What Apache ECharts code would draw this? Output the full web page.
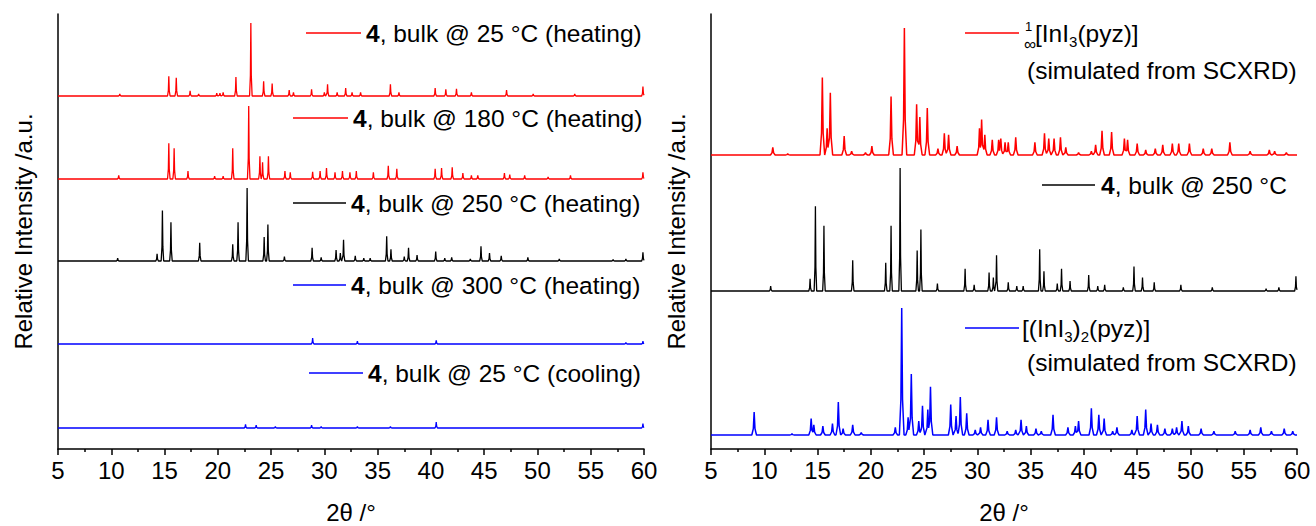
<!DOCTYPE html>
<html lang="en">
<head>
    <meta charset="utf-8">
    <script src="https://cdn.jsdelivr.net/npm/echarts@6/dist/echarts.min.js"></script>
    <title>pxrd_ini3_pyz</title>
</head>
<body>
<style>
    html, body, #main {
        width: 100%;
        height: 100%;
        margin: 0;
        background: #fff;
    }
</style>
<div id='main'></div>
<script>
    // peak positions (2theta, deg) and heights (% of strongest peak of that pattern)
    var heat25Pos = [10.8, 15.4, 16.1, 17.4, 18.2, 19.9, 20.2, 20.5, 21.7, 23.1, 24.3, 25.1, 26.7, 27.1, 28.8, 30.0, 30.3, 31.2, 32.0, 32.6, 33.4, 36.2, 37.0, 40.4, 41.4, 42.4, 43.8, 47.1, 49.6, 53.5, 59.9];
    var heat25Int = [3, 27, 25, 7, 3, 4, 4, 5, 26, 100, 20, 17, 8, 5, 9, 5, 16, 5, 11, 5, 5, 16, 5, 11, 9, 10, 5, 8, 3, 3, 13];

    var heat180Pos = [10.7, 15.4, 15.9, 17.2, 19.7, 20.5, 21.4, 22.9, 23.95, 24.2, 24.75, 26.3, 26.8, 28.9, 29.6, 30.2, 31.0, 31.7, 32.4, 33.0, 34.6, 36.0, 36.8, 40.4, 41.0, 42.0, 43.0, 43.8, 44.4, 46.9, 47.4, 48.8, 51.0, 53.1, 59.9];
    var heat180Int = [5, 49, 42, 11, 4, 4, 42, 100, 31, 23, 31, 11, 9, 10, 11, 15, 9, 11, 9, 11, 9, 18, 14, 14, 15, 16, 8, 5, 5, 8, 6, 5, 3, 5, 9];

    var bulk250Pos = [10.6, 14.3, 14.8, 15.6, 18.3, 21.4, 21.9, 22.75, 24.35, 24.7, 26.25, 28.85, 29.7, 31.1, 31.5, 31.8, 32.9, 33.7, 34.3, 35.85, 36.25, 37.5, 37.9, 38.7, 40.45, 41.3, 41.95, 43.7, 44.7, 45.5, 46.6, 49.1, 52.05, 57.1, 58.3, 59.9];
    var bulk250Int = [4, 10, 69, 53, 25, 23, 53, 100, 33, 50, 6, 18, 5, 15, 11, 29, 7, 4, 4, 34, 16, 6, 18, 8, 13, 4, 5, 3, 20, 11, 7, 5, 3, 2, 3, 12];

    var heat300Pos = [28.9, 33.1, 40.5, 58.3, 59.9];
    var heat300Int = [8, 4, 5, 2, 4];

    var cool25Pos = [22.6, 23.6, 25.4, 28.8, 29.7, 33.1, 36.2, 40.5, 59.9];
    var cool25Int = [5, 4, 2, 4, 2, 2, 2, 8, 6];

    var simChainPos = [10.8, 12.2, 15.45, 15.9, 16.2, 17.5, 18.2, 19.5, 20.1, 21.9, 23.15, 24.3, 24.6, 25.3, 26.3, 26.9, 27.3, 28.1, 30.2, 30.4, 30.7, 31.4, 32.0, 32.2, 32.6, 32.9, 33.6, 35.4, 36.3, 36.7, 37.2, 37.8, 38.3, 39.5, 40.7, 41.1, 41.7, 42.6, 43.8, 44.1, 45.0, 45.8, 46.7, 47.4, 48.3, 48.9, 49.9, 51.2, 52.0, 53.7, 55.6, 57.4, 57.9, 59.0];
    var simChainInt = [6, 1, 61, 21, 49, 15, 3, 2, 7, 46, 100, 40, 30, 37, 5, 17, 16, 7, 21, 28, 16, 12, 12, 13, 10, 10, 14, 10, 17, 13, 13, 14, 6, 2, 3, 8, 19, 18, 13, 12, 9, 4, 5, 8, 9, 9, 9, 5, 5, 10, 3, 4, 3, 2];

    var simDimerPos = [9.05, 12.6, 14.4, 14.65, 15.5, 16.4, 16.95, 17.4, 18.3, 19.1, 22.3, 22.9, 23.5, 23.8, 24.5, 24.85, 25.35, 25.6, 27.5, 28.0, 28.4, 29.0, 29.8, 30.3, 31.0, 31.8, 32.8, 33.6, 34.1, 34.6, 35.5, 36.0, 37.1, 38.5, 39.2, 39.5, 40.7, 41.4, 41.9, 42.7, 43.1, 44.5, 45.0, 45.8, 46.3, 46.9, 47.6, 48.3, 48.7, 49.2, 49.8, 51.0, 52.2, 54.2, 55.6, 56.6, 57.6, 58.8, 59.6];
    var simDimerInt = [18, 1, 13, 8, 7, 9, 26, 5, 8, 2, 6, 100, 14, 48, 11, 23, 20, 38, 24, 15, 30, 17, 4, 6, 12, 14, 3, 4, 12, 7, 5, 3, 16, 6, 7, 11, 21, 16, 13, 3, 6, 4, 15, 20, 9, 8, 5, 5, 6, 11, 7, 5, 3, 3, 4, 6, 3, 5, 3];

    var xTicks = [5, 60, 5]; // min, max, step

    var FONT = '"Liberation Sans", Arial, Helvetica, sans-serif';

    // peak list -> polyline (max of narrow peak shapes) sitting on a baseline
    function profile(pos, inten, hw, scale, base) {
        var xs = [xTicks[0], xTicks[1]];
        pos.forEach(function (p) {
            xs.push(p - hw, p - hw * 0.35, p, p + hw * 0.35, p + hw);
        });
        xs = xs.filter(function (x) { return x >= xTicks[0] && x <= xTicks[1]; })
            .sort(function (a, b) { return a - b; });
        return xs.map(function (x) {
            var y = 0;
            for (var i = 0; i < pos.length; i++) {
                var d = Math.abs(x - pos[i]);
                if (d >= hw) continue;
                var k = hw * 0.35;
                var f = d <= k ? 1 - 0.72 * d / k : 0.28 * (1 - (d - k) / (hw - k));
                y = Math.max(y, inten[i] * f);
            }
            return [x, base + y * scale / 100];
        });
    }

    function trace(name, grid, data, color, width) {
        return {
            name: name,
            type: 'line',
            xAxisIndex: grid,
            yAxisIndex: grid,
            data: data,
            showSymbol: false,
            symbol: 'none',
            silent: true,
            lineStyle: {color: color, width: width || 1.3},
            itemStyle: {color: color}
        };
    }

    function xAxis(grid) {
        return {
            type: 'value',
            gridIndex: grid,
            min: xTicks[0],
            max: xTicks[1],
            interval: xTicks[2],
            axisLine: {onZero: false, lineStyle: {color: '#000', width: 1.5}},
            axisTick: {length: 6, lineStyle: {color: '#000', width: 1.5}},
            minorTick: {show: true, splitNumber: 2, length: 3, lineStyle: {color: '#000', width: 1.5}},
            splitLine: {show: false},
            axisLabel: {fontSize: 24, color: '#000', margin: 9, fontFamily: FONT},
            name: '2θ /°',
            nameLocation: 'middle',
            nameGap: 52,
            nameTextStyle: {fontSize: 24, lineHeight: 22, color: '#000', fontFamily: FONT}
        };
    }

    function yAxis(grid) {
        return {
            type: 'value',
            gridIndex: grid,
            min: 0,
            max: 435,
            axisLine: {show: true, lineStyle: {color: '#000', width: 1.5}},
            axisTick: {show: false},
            axisLabel: {show: false},
            splitLine: {show: false},
            name: 'Relative Intensity /a.u.',
            nameLocation: 'middle',
            nameGap: 23,
            nameTextStyle: {fontSize: 24, color: '#000', fontFamily: FONT}
        };
    }

    // legend entries drawn by hand (line sample + label)
    function legendLine(x1, x2, y, color) {
        return {type: 'line', shape: {x1: x1, y1: y, x2: x2, y2: y}, style: {stroke: color, lineWidth: 1.5}};
    }

    function legendText(x, y, text, size) {
        return {
            type: 'text', x: x, y: y,
            style: {
                text: text, fill: '#000', font: (size || 24.5) + 'px ' + FONT,
                verticalAlign: 'middle', align: 'left',
                rich: {
                    b: {fontWeight: 'bold', fontSize: 24.5, fontFamily: FONT, lineHeight: 32, verticalAlign: 'middle'},
                    t: {fontSize: 24.5, fontFamily: FONT, lineHeight: 32, verticalAlign: 'middle'},
                    s: {fontSize: 15, fontFamily: FONT, lineHeight: 32, verticalAlign: 'bottom'}
                }
            }
        };
    }

    var chart = echarts.init(document.getElementById('main'), null, {renderer: 'svg'});

    var option = {
        animation: false,
        backgroundColor: '#fff',
        grid: [
            {left: 58, top: 14, width: 586, height: 435, outerBoundsMode: 'none'},
            {left: 711, top: 14, width: 586, height: 435, outerBoundsMode: 'none'}
        ],
        xAxis: [xAxis(0), xAxis(1)],
        yAxis: [yAxis(0), yAxis(1)],
        series: [
            trace('4, bulk @ 25 °C (heating)', 0, profile(heat25Pos, heat25Int, 0.12, 73, 353), '#ff0000'),
            trace('4, bulk @ 180 °C (heating)', 0, profile(heat180Pos, heat180Int, 0.12, 73, 270), '#ff0000'),
            trace('4, bulk @ 250 °C (heating)', 0, profile(bulk250Pos, bulk250Int, 0.12, 73, 188), '#000000'),
            trace('4, bulk @ 300 °C (heating)', 0, profile(heat300Pos, heat300Int, 0.12, 73, 105), '#0000ff'),
            trace('4, bulk @ 25 °C (cooling)', 0, profile(cool25Pos, cool25Int, 0.12, 73, 21), '#0000ff'),
            trace('[InI3(pyz)] simulated', 1, profile(simChainPos, simChainInt, 0.22, 127, 294), '#ff0000', 1.5),
            trace('4, bulk @ 250 °C', 1, profile(bulk250Pos, bulk250Int, 0.12, 123, 158), '#000000'),
            trace('[(InI3)2(pyz)] simulated', 1, profile(simDimerPos, simDimerInt, 0.22, 127, 14), '#0000ff', 1.5)
        ],
        graphic: [
            legendLine(306, 361, 33, '#ff0000'),
            legendText(366, 33, '{b|4}{t|, bulk @ 25 °C (heating)}'),
            legendLine(293, 348, 118, '#ff0000'),
            legendText(353, 118, '{b|4}{t|, bulk @ 180 °C (heating)}'),
            legendLine(293, 346, 203, '#000000'),
            legendText(351, 203, '{b|4}{t|, bulk @ 250 °C (heating)}'),
            legendLine(293, 346, 285, '#0000ff'),
            legendText(351, 285, '{b|4}{t|, bulk @ 300 °C (heating)}'),
            legendLine(309, 363, 373, '#0000ff'),
            legendText(368, 373, '{b|4}{t|, bulk @ 25 °C (cooling)}'),

            legendLine(965, 1019, 33, '#ff0000'),
            legendText(1025, 26, '1', 13),
            legendText(1024, 44, '∞', 17),
            legendText(1035, 33, '{t|[InI}{s|3}{t|(pyz)]}'),
            legendText(1027, 70, '(simulated from SCXRD)'),
            legendLine(1042, 1095, 185, '#000000'),
            legendText(1101, 185, '{b|4}{t|, bulk @ 250 °C}'),
            legendLine(965, 1019, 328, '#0000ff'),
            legendText(1022, 328, '{t|[(InI}{s|3}{t|)}{s|2}{t|(pyz)]}'),
            legendText(1027, 362, '(simulated from SCXRD)')
        ]
    };
    chart.setOption(option);

    window.onresize = chart.resize;
</script>
</body>
</html>
